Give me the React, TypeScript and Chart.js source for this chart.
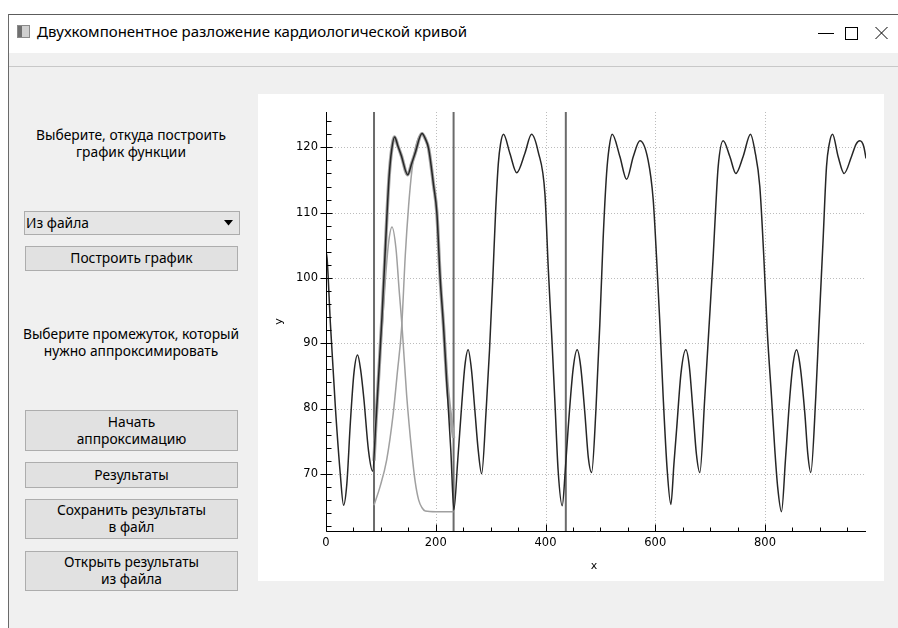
import React, { useEffect, useRef } from "react";
import { Chart, registerables } from "chart.js";

Chart.register(...registerables);

// ---- axis ranges & ticks ----
const X_MIN = 0;
const X_MAX = 984;
const Y_MIN = 61.24;
const Y_MAX = 125.41;
const xMajorTicks = [0, 200, 400, 600, 800];
const xMinorTicks = [50, 100, 150, 250, 300, 350, 450, 500, 550, 650, 700, 750, 850, 900, 950];
const yMajorTicks = [70, 80, 90, 100, 110, 120];
const yMinorTicks = [62, 64, 66, 68, 72, 74, 76, 78, 82, 84, 86, 88, 92, 94, 96, 98, 102, 104, 106, 108, 112, 114, 116, 118, 122, 124];

// ---- measured curve ----
const mainX = [
  0, 2, 8, 17, 26, 32, 38, 44.5, 51, 57.5, 63, 69, 77.5, 85, 91, 97, 102, 107, 111, 115, 119.5, 125, 131, 137, 149, 156, 162, 175, 181, 187, 196, 202, 208, 214, 220.5, 227.5, 233,
  240, 247.5, 253, 259, 265, 271, 277.5, 283.6, 292, 298, 304, 309, 314, 318, 323.5, 335, 347.5, 362.5, 374.5, 386.7, 399, 405, 412, 417.5, 423, 430.5,
  436, 441.3, 450.4, 457.7, 464, 471.8, 478, 484, 492, 499, 505, 511.3, 516, 521.5, 535.5, 547.7, 560, 572, 587, 596.2, 602.3, 608.4, 614.4, 621.7, 628.4,
  634, 638.8, 647, 655.7, 662, 669, 675, 681.2, 690.3, 697.6, 705.5, 710, 714.6, 723.7, 735.9, 746.8, 760.1, 773.6, 781.4, 790.5, 797.8, 804, 811.8, 818, 823, 830,
  837.5, 845.2, 851, 857.4, 864, 872.5, 878, 883.4, 892.5, 898, 905.8, 912, 917, 923, 933.2, 944.1, 957.6, 966, 972.7, 980, 984,
];
const mainY = [
  104, 103, 93, 80.3, 70, 65.2, 68.5, 78, 85.5, 88.2, 86, 81.5, 73.5, 70.4, 78, 86.5, 94, 102.5, 109.5, 115.5, 119.5, 121.6, 120.2, 118.8, 115.8, 117.5, 119, 122.1, 121.3, 119.8, 114.2, 110, 100, 92.8, 83.3, 73.5, 64.5,
  72, 80.8, 86.5, 89, 86, 80, 73.5, 70, 80, 89, 100, 110, 117.5, 120.5, 122, 119.1, 116.1, 119.1, 122, 119.3, 112.8, 101.5, 90, 80.3, 70.5, 65.1,
  70.5, 77, 86.1, 89, 86.5, 79.2, 72.5, 70.2, 80, 93, 106, 116, 120, 122, 118.6, 115.1, 118.6, 121, 118, 112, 103.2, 93, 81.8, 70.6, 65.3,
  71.5, 76.7, 85.5, 89, 86.5, 79.3, 73, 70.2, 81.8, 92, 103.2, 110.5, 117, 121, 118.6, 116, 118.6, 122, 119.5, 114, 103.2, 92, 81.8, 73.5, 68, 64.2,
  72.5, 81.8, 86.8, 89, 86.5, 79.3, 73, 70.2, 81.8, 92, 105.8, 117, 120.5, 122, 118.6, 116, 118.6, 120.5, 121, 120.1, 118.3,
];

// ---- approximation (sum) on the selected interval ----
const fitX = [87.5, 91, 97, 102, 107, 111, 115, 119.5, 125, 131, 137, 149, 156, 162, 175, 181, 187, 196, 202, 208, 214, 220.5, 225, 232.5];
const fitY = [72, 78, 86.5, 94, 102.5, 109.5, 115.5, 119.5, 121.6, 120.2, 118.8, 115.8, 117.5, 119, 122.1, 121.3, 119.8, 114.2, 110, 100, 92.8, 84, 80.2, 75.5];

// ---- component 1 (narrow) ----
const compAX = [87.5, 93, 98, 103.3, 108, 114.2, 120.2, 127.5, 133.5, 138.4, 147, 156.6, 162.5, 168.8, 175, 181, 200, 232.5];
const compAY = [75, 81.5, 88, 93.5, 99.5, 105.5, 107.8, 104.5, 97.9, 92.8, 82, 73.1, 68.8, 66, 64.8, 64.3, 64.2, 64.2];

// ---- component 2 (wide) ----
const compBX = [87.5, 98.4, 110.5, 122.6, 130, 137.9, 144.5, 150.5, 156.6, 163, 175, 187, 196, 202, 208, 214, 220.5, 225, 232.5];
const compBY = [65.2, 68, 72.1, 79.3, 85.5, 92.5, 103.5, 111, 116.5, 120, 122, 119.8, 114.2, 110, 100, 92.8, 84, 80.2, 75.5];

// ---- interval markers ----
const vLineX = [87.5, 232.5, 437];

const pts = (xs: number[], ys: number[]) => xs.map((x, i) => ({ x, y: ys[i] }));

const decorPlugin = {
  id: "qwtDecor",
  beforeDatasetsDraw(chart: any) {
    const { ctx, chartArea: a } = chart;
    const xs = chart.scales.x;
    const ys = chart.scales.y;
    ctx.save();
    ctx.strokeStyle = "#bcbcbc";
    ctx.lineWidth = 1;
    ctx.setLineDash([1, 2]);
    for (const v of xMajorTicks) {
      if (v === X_MIN) continue;
      const p = Math.round(xs.getPixelForValue(v)) + 0.5;
      ctx.beginPath();
      ctx.moveTo(p, a.top);
      ctx.lineTo(p, a.bottom);
      ctx.stroke();
    }
    for (const v of yMajorTicks) {
      const p = Math.round(ys.getPixelForValue(v)) + 0.5;
      ctx.beginPath();
      ctx.moveTo(a.left, p);
      ctx.lineTo(a.right, p);
      ctx.stroke();
    }
    ctx.restore();
  },
  afterDatasetsDraw(chart: any) {
    const { ctx, chartArea: a } = chart;
    const xs = chart.scales.x;
    const ys = chart.scales.y;
    const L = Math.round(a.left) + 0.5;
    const B = Math.round(a.bottom) + 0.5;
    ctx.save();
    ctx.strokeStyle = "#000";
    ctx.lineWidth = 1;
    ctx.beginPath();
    ctx.moveTo(L, a.top);
    ctx.lineTo(L, B);
    ctx.lineTo(a.right, B);
    ctx.stroke();
    ctx.beginPath();
    for (const v of xMajorTicks) {
      const p = Math.round(xs.getPixelForValue(v)) + 0.5;
      ctx.moveTo(p, B);
      ctx.lineTo(p, B - 7);
    }
    for (const v of xMinorTicks) {
      const p = Math.round(xs.getPixelForValue(v)) + 0.5;
      ctx.moveTo(p, B);
      ctx.lineTo(p, B - 4);
    }
    for (const v of yMajorTicks) {
      const p = Math.round(ys.getPixelForValue(v)) + 0.5;
      ctx.moveTo(L - 6, p);
      ctx.lineTo(L + 6, p);
    }
    for (const v of yMinorTicks) {
      const p = Math.round(ys.getPixelForValue(v)) + 0.5;
      ctx.moveTo(L, p);
      ctx.lineTo(L + 5, p);
    }
    ctx.stroke();
    ctx.restore();
  },
  afterDraw(chart: any) {
    const { ctx, chartArea: a } = chart;
    ctx.save();
    ctx.fillStyle = "#000";
    ctx.font = "11px 'DejaVu Sans', sans-serif";
    ctx.textAlign = "center";
    ctx.textBaseline = "middle";
    ctx.fillText("x", (a.left + a.right) / 2 - 2, a.bottom + 35);
    ctx.translate(a.left - 47, (a.top + a.bottom) / 2);
    ctx.rotate(-Math.PI / 2);
    ctx.fillText("y", 0, 0);
    ctx.restore();
  },
};

function CardioChart() {
  const ref = useRef<HTMLCanvasElement | null>(null);
  useEffect(() => {
    if (!ref.current) return;
    const lineDs = (label: string, data: any[], color: string, width: number) => ({
      label,
      data,
      borderColor: color,
      borderWidth: width,
      pointRadius: 0,
      fill: false,
      cubicInterpolationMode: "monotone" as const,
      tension: 0.4,
    });
    const vDs = vLineX.map((x, i) => ({
      label: "marker" + i,
      data: [
        { x, y: Y_MIN },
        { x, y: Y_MAX },
      ],
      borderColor: "#6b6b6b",
      borderWidth: 2,
      pointRadius: 0,
      fill: false,
      tension: 0,
    }));
    const chart = new Chart(ref.current, {
      type: "line",
      data: {
        datasets: [
          lineDs("signal", pts(mainX, mainY), "#262626", 1.5),
          lineDs("fit", pts(fitX, fitY), "#a2a2a2", 3.4),
          lineDs("comp1", pts(compAX, compAY), "#a0a0a0", 1.5),
          lineDs("comp2", pts(compBX, compBY), "#a0a0a0", 1.5),
          ...vDs,
        ] as any,
      },
      options: {
        animation: false,
        responsive: false,
        maintainAspectRatio: false,
        layout: { padding: { top: 18, right: 18, left: 0, bottom: 0 } },
        plugins: { legend: { display: false }, tooltip: { enabled: false }, title: { display: false } },
        events: [],
        scales: {
          x: {
            type: "linear",
            min: X_MIN,
            max: X_MAX,
            grid: { display: false, drawTicks: false },
            border: { display: false },
            afterBuildTicks: (s: any) => {
              s.ticks = xMajorTicks.map((v) => ({ value: v }));
            },
            afterFit: (s: any) => {
              s.height = 50;
            },
            ticks: {
              padding: 5,
              color: "#000",
              maxRotation: 0,
              autoSkip: false,
              font: { family: "'DejaVu Sans', sans-serif", size: 11.5 },
              callback: (v: any) => String(v),
            },
          },
          y: {
            type: "linear",
            min: Y_MIN,
            max: Y_MAX,
            grid: { display: false, drawTicks: false },
            border: { display: false },
            afterBuildTicks: (s: any) => {
              s.ticks = yMajorTicks.map((v) => ({ value: v }));
            },
            afterFit: (s: any) => {
              s.width = 68;
            },
            ticks: {
              padding: 8,
              color: "#000",
              autoSkip: false,
              font: { family: "'DejaVu Sans', sans-serif", size: 11.5 },
              callback: (v: any) => String(v),
            },
          },
        },
      },
      plugins: [decorPlugin],
    });
    return () => chart.destroy();
  }, []);
  return <canvas ref={ref} width={626} height={487} style={{ display: "block", width: 626, height: 487 }} />;
}

const uiFont = "'Noto Sans', 'Open Sans', sans-serif";

function Btn(props: { top: number; height: number; lines: string[] }) {
  return (
    <div
      style={{
        position: "absolute",
        left: 25,
        top: props.top,
        width: 211,
        height: props.height,
        background: "#e1e1e1",
        border: "1px solid #adadad",
        display: "flex",
        flexDirection: "column",
        alignItems: "center",
        justifyContent: "center",
        fontSize: 13.8,
        lineHeight: "16.7px",
        color: "#000",
      }}
    >
      {props.lines.map((l, i) => (
        <div key={i}>{l}</div>
      ))}
    </div>
  );
}

export default function App() {
  return (
    <div
      style={{
        position: "fixed",
        left: 0,
        top: 0,
        width: 898,
        height: 628,
        background: "#fff",
        overflow: "hidden",
        fontFamily: uiFont,
      }}
    >
      {/* window frame */}
      <div style={{ position: "absolute", left: 8, top: 14, width: 890, height: 1, background: "#5c5c5c" }} />
      <div style={{ position: "absolute", left: 8, top: 14, width: 1, height: 614, background: "#6a6a6a" }} />
      {/* title bar */}
      <div style={{ position: "absolute", left: 9, top: 15, width: 889, height: 38, background: "#fff" }} />
      <div
        style={{
          position: "absolute",
          left: 17,
          top: 25,
          width: 11,
          height: 11,
          border: "1px solid #8a8a8a",
          background: "linear-gradient(90deg,#6f6f6f 0 35%,#cfcfcf 35% 100%)",
        }}
      />
      <div style={{ position: "absolute", left: 37, top: 21, fontSize: 15, lineHeight: "20px", color: "#000", whiteSpace: "nowrap" }}>
        Двухкомпонентное разложение кардиологической кривой
      </div>
      <svg style={{ position: "absolute", left: 800, top: 15 }} width={98} height={38}>
        <line x1={18} y1={18.5} x2={34} y2={18.5} stroke="#000" strokeWidth={1} />
        <rect x={45.5} y={12.5} width={12} height={12} fill="none" stroke="#000" strokeWidth={1} />
        <line x1={75.5} y1={12} x2={87.5} y2={24} stroke="#000" strokeWidth={1} />
        <line x1={87.5} y1={12} x2={75.5} y2={24} stroke="#000" strokeWidth={1} />
      </svg>
      {/* menu band + content */}
      <div style={{ position: "absolute", left: 9, top: 53, width: 889, height: 14, background: "#f0f0f0" }} />
      <div style={{ position: "absolute", left: 9, top: 66, width: 889, height: 1, background: "#c8c8c8" }} />
      <div style={{ position: "absolute", left: 9, top: 67, width: 889, height: 561, background: "#f0f0f0" }} />

      {/* left panel */}
      <div style={{ position: "absolute", left: 8, top: 126, width: 246, textAlign: "center", fontSize: 13.8, lineHeight: "17px", color: "#000" }}>
        Выберите, откуда построить
        <br />
        график функции
      </div>
      <div
        style={{
          position: "absolute",
          left: 24,
          top: 211,
          width: 214,
          height: 22,
          background: "#e5e5e5",
          border: "1px solid #acacac",
          fontSize: 13.8,
          lineHeight: "22px",
          color: "#000",
        }}
      >
        <span style={{ position: "absolute", left: 1, top: 0 }}>Из файла</span>
        <svg style={{ position: "absolute", left: 199, top: 8 }} width={10} height={6}>
          <polygon points="0,0 9,0 4.5,5.5" fill="#000" />
        </svg>
      </div>
      <Btn top={246} height={23} lines={["Построить график"]} />

      <div style={{ position: "absolute", left: 0, top: 325, width: 262, textAlign: "center", fontSize: 13.8, lineHeight: "17px", color: "#000" }}>
        Выберите промежуток, который
        <br />
        нужно аппроксимировать
      </div>
      <Btn top={410} height={39} lines={["Начать", "аппроксимацию"]} />
      <Btn top={462} height={24} lines={["Результаты"]} />
      <Btn top={499} height={38} lines={["Сохранить результаты", "в файл"]} />
      <Btn top={551} height={38} lines={["Открыть результаты", "из файла"]} />

      {/* plot panel */}
      <div style={{ position: "absolute", left: 258, top: 94, width: 626, height: 487, background: "#fff" }}>
        <CardioChart />
      </div>
    </div>
  );
}
